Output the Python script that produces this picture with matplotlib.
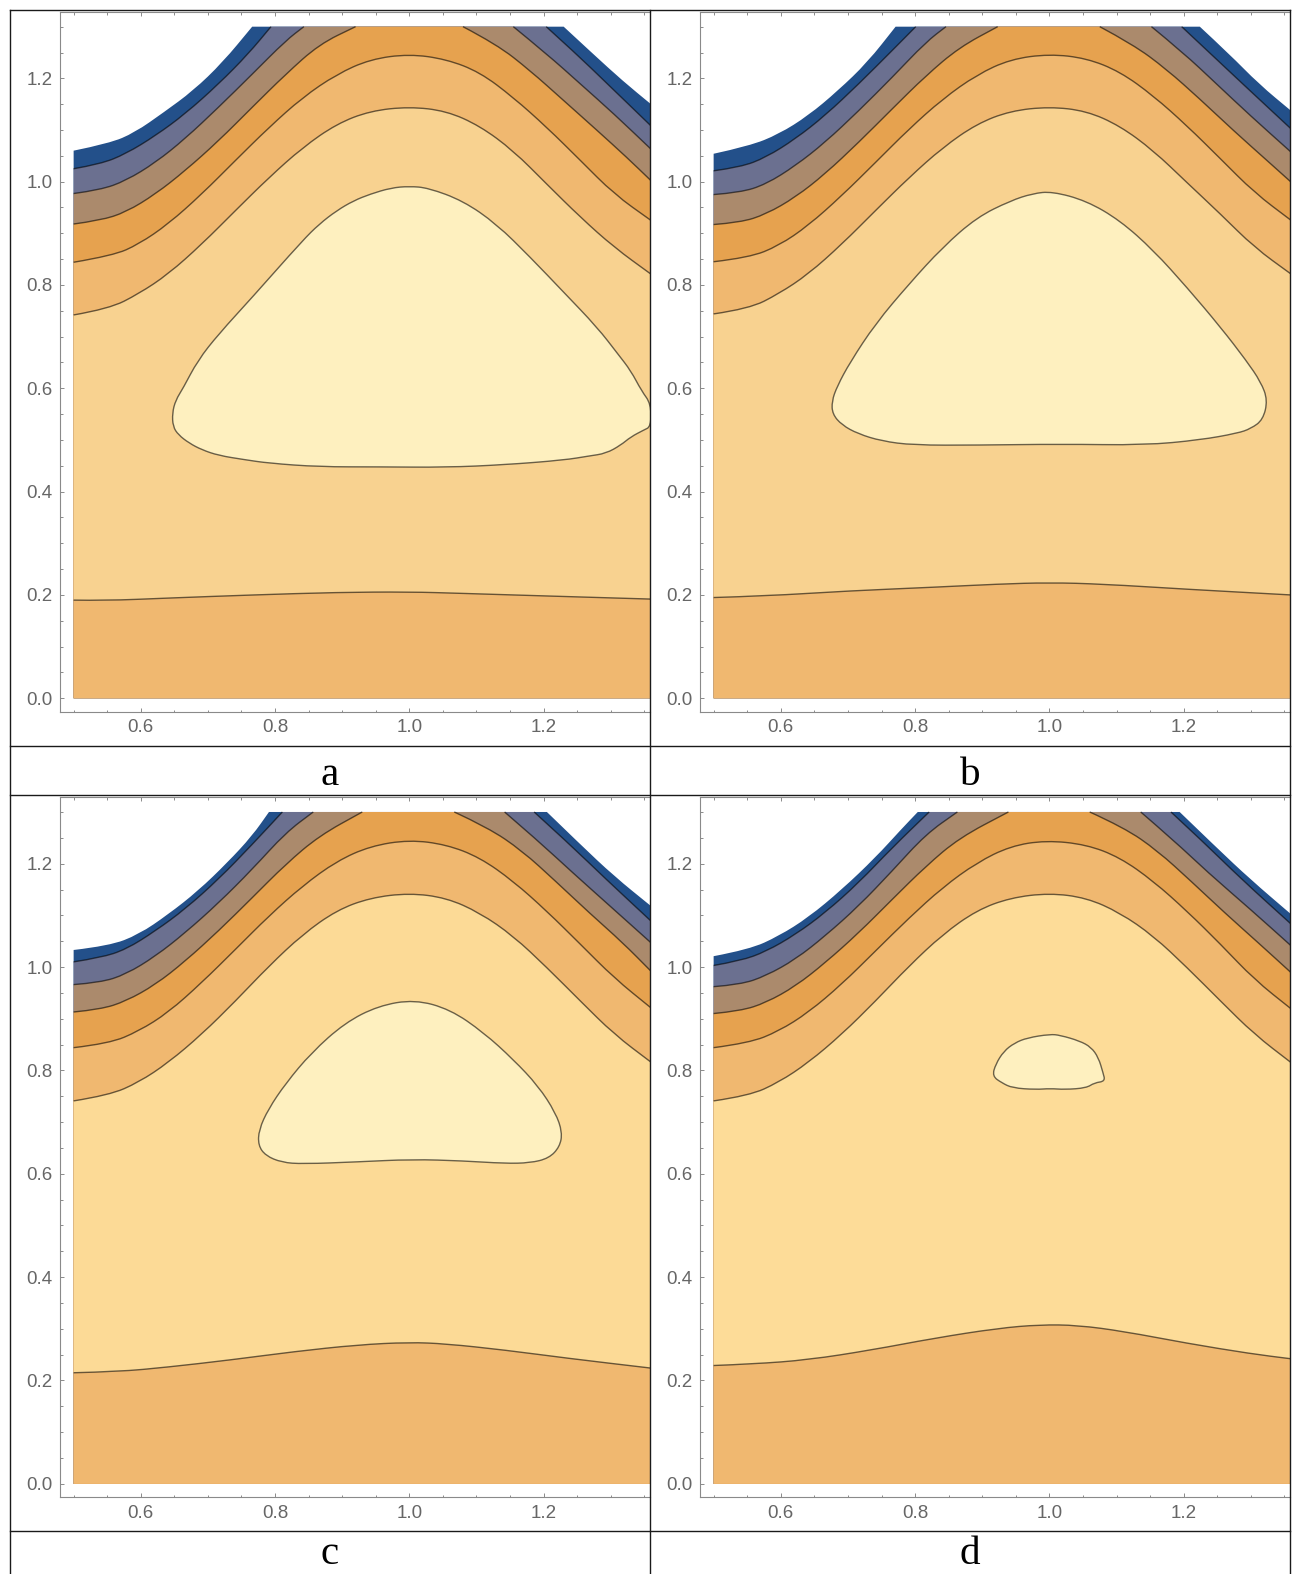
import matplotlib
matplotlib.use("Agg")
import matplotlib.pyplot as plt
from matplotlib.patches import PathPatch
from matplotlib.path import Path
from matplotlib.ticker import MultipleLocator, FormatStrFormatter

# contour curves, (x, y) points; *_l / *_r are the branches cut by the top of the plot
a_edge_l = [(0.5, 1.060), (0.553, 1.074), (0.591, 1.095), (0.634, 1.134), (0.678, 1.176), (0.722, 1.231), (0.766, 1.30)]
a_edge_r = [(1.230, 1.30), (1.274, 1.247), (1.318, 1.195), (1.36, 1.150)]
a_c1_l = [(0.5, 1.025), (0.540, 1.034), (0.578, 1.054), (0.622, 1.089), (0.666, 1.131), (0.716, 1.189), (0.760, 1.247), (0.794, 1.30)]
a_c1_r = [(1.204, 1.30), (1.249, 1.247), (1.293, 1.192), (1.36, 1.108)]
a_c2_l = [(0.5, 0.977), (0.540, 0.984), (0.578, 1.002), (0.622, 1.037), (0.666, 1.083), (0.716, 1.144), (0.766, 1.208), (0.816, 1.273), (0.843, 1.30)]
a_c2_r = [(1.155, 1.30), (1.205, 1.247), (1.255, 1.189), (1.305, 1.131), (1.36, 1.063)]
a_c3_l = [(0.5, 0.918), (0.540, 0.925), (0.578, 0.941), (0.622, 0.976), (0.666, 1.021), (0.716, 1.079), (0.766, 1.144), (0.816, 1.208), (0.866, 1.266), (0.920, 1.30)]
a_c3_r = [(1.080, 1.30), (1.130, 1.266), (1.180, 1.215), (1.230, 1.157), (1.280, 1.099), (1.324, 1.047), (1.36, 1.002)]
a_c4 = [(0.5, 0.844), (0.559, 0.857), (0.597, 0.879), (0.641, 0.918), (0.691, 0.976), (0.741, 1.041), (0.791, 1.105), (0.841, 1.163), (0.892, 1.208),
        (0.942, 1.237), (1.0, 1.247), (1.055, 1.237), (1.105, 1.212), (1.155, 1.163), (1.205, 1.105), (1.255, 1.041), (1.305, 0.976), (1.36, 0.925)]
a_c5 = [(0.5, 0.742), (0.553, 0.754), (0.597, 0.783), (0.641, 0.821), (0.691, 0.879), (0.741, 0.944), (0.791, 1.008), (0.841, 1.066), (0.892, 1.112),
        (0.942, 1.137), (1.0, 1.145), (1.055, 1.137), (1.105, 1.108), (1.155, 1.060), (1.205, 0.995), (1.255, 0.931), (1.305, 0.873), (1.36, 0.821)]
a_low = [(0.5, 0.190), (0.547, 0.189), (0.641, 0.194), (0.766, 0.200), (0.892, 0.205), (1.0, 0.206), (1.080, 0.203), (1.205, 0.198), (1.36, 0.192)]
a_blob = [(1.0, 0.991), (1.028, 0.988), (1.080, 0.963), (1.130, 0.918), (1.180, 0.854), (1.230, 0.786), (1.280, 0.718), (1.311, 0.666),
          (1.330, 0.634), (1.346, 0.595), (1.36, 0.570), (1.36, 0.526), (1.349, 0.519), (1.330, 0.506), (1.315, 0.490), (1.293, 0.474),
          (1.268, 0.469), (1.230, 0.461), (1.142, 0.452), (1.055, 0.447), (0.954, 0.448), (0.866, 0.448), (0.791, 0.455), (0.754, 0.462),
          (0.716, 0.470), (0.691, 0.481), (0.672, 0.494), (0.656, 0.510), (0.648, 0.526), (0.647, 0.552), (0.652, 0.577), (0.663, 0.600),
          (0.685, 0.654), (0.716, 0.705), (0.766, 0.776), (0.841, 0.886), (0.866, 0.918), (0.892, 0.944), (0.917, 0.963), (0.942, 0.976),
          (0.973, 0.988)]

b_edge_l = [(0.5, 1.054), (0.553, 1.069), (0.597, 1.092), (0.641, 1.128), (0.685, 1.176), (0.729, 1.231), (0.771, 1.30)]
b_edge_r = [(1.224, 1.30), (1.268, 1.247), (1.312, 1.189), (1.36, 1.137)]
b_c1_l = [(0.5, 1.021), (0.540, 1.028), (0.578, 1.047), (0.622, 1.083), (0.666, 1.128), (0.716, 1.189), (0.766, 1.254), (0.801, 1.30)]
b_c1_r = [(1.197, 1.30), (1.243, 1.244), (1.293, 1.183), (1.36, 1.102)]
b_c2_l = [(0.5, 0.975), (0.540, 0.979), (0.578, 0.995), (0.622, 1.031), (0.666, 1.076), (0.716, 1.137), (0.766, 1.202), (0.816, 1.270), (0.846, 1.30)]
b_c2_r = [(1.152, 1.30), (1.199, 1.250), (1.249, 1.189), (1.299, 1.128), (1.36, 1.057)]
b_c3_l = [(0.5, 0.917), (0.540, 0.921), (0.578, 0.937), (0.622, 0.970), (0.666, 1.015), (0.716, 1.076), (0.766, 1.141), (0.816, 1.205), (0.866, 1.260), (0.923, 1.30)]
b_c3_r = [(1.075, 1.30), (1.124, 1.266), (1.174, 1.218), (1.224, 1.160), (1.274, 1.099), (1.324, 1.041), (1.36, 0.999)]
b_c4 = [(0.5, 0.845), (0.553, 0.853), (0.597, 0.876), (0.641, 0.915), (0.691, 0.973), (0.741, 1.037), (0.791, 1.102), (0.841, 1.160), (0.892, 1.207),
        (0.942, 1.237), (1.0, 1.247), (1.055, 1.239), (1.105, 1.213), (1.155, 1.166), (1.205, 1.108), (1.255, 1.044), (1.305, 0.979), (1.36, 0.925)]
b_c5 = [(0.5, 0.744), (0.553, 0.754), (0.597, 0.783), (0.641, 0.821), (0.691, 0.879), (0.741, 0.944), (0.791, 1.008), (0.841, 1.066), (0.892, 1.112),
        (0.942, 1.137), (1.0, 1.145), (1.055, 1.137), (1.105, 1.108), (1.155, 1.060), (1.205, 0.998), (1.255, 0.937), (1.305, 0.873), (1.36, 0.821)]
b_low = [(0.5, 0.195), (0.578, 0.198), (0.703, 0.208), (0.829, 0.215), (0.923, 0.221), (1.0, 0.224), (1.080, 0.221), (1.205, 0.211), (1.36, 0.200)]
b_blob = [(1.004, 0.981), (1.055, 0.963), (1.105, 0.925), (1.155, 0.867), (1.205, 0.795), (1.255, 0.718), (1.293, 0.654), (1.315, 0.612),
          (1.325, 0.577), (1.318, 0.539), (1.300, 0.522), (1.280, 0.513), (1.224, 0.500), (1.142, 0.490), (1.017, 0.492), (0.892, 0.490),
          (0.797, 0.490), (0.750, 0.498), (0.715, 0.512), (0.691, 0.529), (0.677, 0.550), (0.676, 0.575), (0.684, 0.604), (0.703, 0.650),
          (0.741, 0.725), (0.791, 0.802), (0.841, 0.873), (0.892, 0.931), (0.942, 0.963), (0.975, 0.977)]

c_edge_l = [(0.5, 1.033), (0.553, 1.041), (0.597, 1.063), (0.641, 1.102), (0.685, 1.147), (0.729, 1.202), (0.766, 1.254), (0.791, 1.30)]
c_edge_r = [(1.205, 1.30), (1.255, 1.237), (1.305, 1.176), (1.36, 1.118)]
c_c1_l = [(0.5, 1.010), (0.540, 1.018), (0.578, 1.034), (0.622, 1.070), (0.666, 1.112), (0.716, 1.170), (0.766, 1.237), (0.811, 1.30)]
c_c1_r = [(1.186, 1.30), (1.236, 1.241), (1.293, 1.170), (1.36, 1.089)]
c_c2_l = [(0.5, 0.966), (0.540, 0.970), (0.578, 0.986), (0.622, 1.021), (0.666, 1.066), (0.716, 1.124), (0.766, 1.189), (0.816, 1.260), (0.857, 1.30)]
c_c2_r = [(1.142, 1.30), (1.192, 1.244), (1.243, 1.183), (1.299, 1.118), (1.36, 1.047)]
c_c3_l = [(0.5, 0.913), (0.540, 0.918), (0.578, 0.934), (0.622, 0.966), (0.666, 1.011), (0.716, 1.070), (0.766, 1.134), (0.816, 1.199), (0.866, 1.254), (0.930, 1.30)]
c_c3_r = [(1.067, 1.30), (1.117, 1.270), (1.168, 1.225), (1.218, 1.166), (1.268, 1.105), (1.318, 1.047), (1.36, 0.992)]
c_c4 = [(0.5, 0.844), (0.553, 0.852), (0.597, 0.876), (0.641, 0.912), (0.691, 0.970), (0.741, 1.034), (0.791, 1.099), (0.841, 1.157), (0.892, 1.205),
        (0.942, 1.234), (1.0, 1.246), (1.055, 1.237), (1.105, 1.212), (1.155, 1.166), (1.205, 1.108), (1.255, 1.044), (1.305, 0.979), (1.36, 0.921)]
c_c5 = [(0.5, 0.741), (0.553, 0.752), (0.597, 0.777), (0.641, 0.815), (0.691, 0.870), (0.741, 0.934), (0.791, 1.002), (0.841, 1.063), (0.892, 1.110),
        (0.942, 1.134), (1.0, 1.143), (1.055, 1.134), (1.105, 1.105), (1.155, 1.060), (1.205, 0.999), (1.255, 0.934), (1.305, 0.870), (1.36, 0.816)]
c_low = [(0.5, 0.215), (0.566, 0.217), (0.641, 0.226), (0.735, 0.240), (0.829, 0.256), (0.923, 0.269), (1.0, 0.274), (1.055, 0.271),
         (1.142, 0.259), (1.236, 0.243), (1.36, 0.224)]
c_blob = [(1.008, 0.937), (1.061, 0.918), (1.111, 0.873), (1.155, 0.821), (1.192, 0.770), (1.218, 0.718), (1.228, 0.680), (1.224, 0.652),
          (1.208, 0.630), (1.180, 0.621), (1.142, 0.620), (1.080, 0.625), (1.004, 0.628), (0.923, 0.623), (0.841, 0.619), (0.810, 0.622),
          (0.786, 0.635), (0.775, 0.655), (0.776, 0.685), (0.790, 0.725), (0.816, 0.775), (0.854, 0.834), (0.904, 0.892), (0.954, 0.925)]

d_edge_l = [(0.5, 1.021), (0.553, 1.034), (0.597, 1.060), (0.641, 1.096), (0.691, 1.150), (0.741, 1.212), (0.779, 1.266), (0.804, 1.30)]
d_edge_r = [(1.194, 1.30), (1.249, 1.231), (1.299, 1.170), (1.36, 1.102)]
d_c1_l = [(0.5, 1.003), (0.540, 1.012), (0.578, 1.030), (0.622, 1.063), (0.666, 1.105), (0.716, 1.163), (0.766, 1.231), (0.821, 1.30)]
d_c1_r = [(1.181, 1.30), (1.230, 1.241), (1.286, 1.170), (1.36, 1.083)]
d_c2_l = [(0.5, 0.962), (0.540, 0.966), (0.578, 0.983), (0.622, 1.015), (0.666, 1.060), (0.716, 1.118), (0.766, 1.186), (0.816, 1.257), (0.863, 1.30)]
d_c2_r = [(1.136, 1.30), (1.186, 1.244), (1.236, 1.183), (1.299, 1.112), (1.36, 1.041)]
d_c3_l = [(0.5, 0.910), (0.540, 0.915), (0.578, 0.931), (0.622, 0.963), (0.666, 1.008), (0.716, 1.066), (0.766, 1.131), (0.816, 1.195), (0.866, 1.250), (0.939, 1.30)]
d_c3_r = [(1.060, 1.30), (1.111, 1.270), (1.161, 1.225), (1.211, 1.166), (1.261, 1.105), (1.311, 1.047), (1.36, 0.989)]
d_c4 = [(0.5, 0.844), (0.553, 0.853), (0.597, 0.876), (0.641, 0.912), (0.691, 0.967), (0.741, 1.031), (0.791, 1.095), (0.841, 1.154), (0.892, 1.202),
        (0.942, 1.234), (0.995, 1.245), (1.055, 1.237), (1.105, 1.212), (1.155, 1.166), (1.205, 1.108), (1.255, 1.044), (1.305, 0.976), (1.36, 0.919)]
d_c5 = [(0.5, 0.741), (0.553, 0.751), (0.597, 0.777), (0.641, 0.815), (0.691, 0.870), (0.741, 0.934), (0.791, 1.002), (0.841, 1.063), (0.892, 1.110),
        (0.942, 1.134), (1.0, 1.143), (1.055, 1.134), (1.105, 1.105), (1.155, 1.060), (1.205, 0.999), (1.255, 0.934), (1.305, 0.870), (1.36, 0.815)]
d_low = [(0.5, 0.229), (0.560, 0.232), (0.641, 0.240), (0.735, 0.259), (0.829, 0.282), (0.923, 0.301), (0.986, 0.308), (1.042, 0.307),
         (1.111, 0.295), (1.205, 0.272), (1.299, 0.252), (1.36, 0.242)]
d_blob = [(1.001, 0.870), (1.016, 0.868), (1.045, 0.857), (1.062, 0.845), (1.073, 0.825), (1.080, 0.795), (1.083, 0.779), (1.067, 0.776),
          (1.055, 0.766), (1.023, 0.763), (1.001, 0.765), (0.980, 0.763), (0.945, 0.766), (0.929, 0.776), (0.915, 0.789), (0.920, 0.812),
          (0.932, 0.837), (0.948, 0.853), (0.967, 0.863)]

panel_names = ["a", "b", "c", "d"]
level_colors = ["#23508a", "#6b7090", "#ab8a6c", "#e6a24f", "#f0b870"]
main_colors = ["#f8d290", "#f8d290", "#fcda96", "#fddc98"]
blob_color = "#fef0bf"

x_lo, x_hi = 0.5, 1.36

W, H = 1301, 1574
fig = plt.figure(figsize=(W / 100, H / 100), dpi=100)

# axes boxes in pixels: left, top, right, bottom
boxes = [(60.2, 11.7, 650.0, 711.7), (700.2, 11.7, 1290.2, 711.7),
         (60.2, 797.0, 650.0, 1497.3), (700.2, 797.0, 1290.2, 1497.3)]
label_pos = [(329.7, 785.0), (970.0, 785.0), (329.7, 1564.0), (970.0, 1564.0)]

panels = [
    (a_edge_l, a_edge_r, a_c1_l, a_c1_r, a_c2_l, a_c2_r, a_c3_l, a_c3_r, a_c4, a_c5, a_low, a_blob),
    (b_edge_l, b_edge_r, b_c1_l, b_c1_r, b_c2_l, b_c2_r, b_c3_l, b_c3_r, b_c4, b_c5, b_low, b_blob),
    (c_edge_l, c_edge_r, c_c1_l, c_c1_r, c_c2_l, c_c2_r, c_c3_l, c_c3_r, c_c4, c_c5, c_low, c_blob),
    (d_edge_l, d_edge_r, d_c1_l, d_c1_r, d_c2_l, d_c2_r, d_c3_l, d_c3_r, d_c4, d_c5, d_low, d_blob),
]


def mid(p, q):
    return ((p[0] + q[0]) / 2, (p[1] + q[1]) / 2)


def chain(pts, verts, codes, first):
    # smooth open run through the points (quadratic pieces between midpoints)
    verts.append(pts[0])
    codes.append(first)
    for k in range(1, len(pts) - 1):
        verts += [pts[k], mid(pts[k], pts[k + 1])]
        codes += [Path.CURVE3, Path.CURVE3]
    verts.append(pts[-1])
    codes.append(Path.LINETO)


def loop_path(pts):
    n = len(pts)
    start = mid(pts[-1], pts[0])
    verts, codes = [start], [Path.MOVETO]
    for k in range(n):
        verts += [pts[k], mid(pts[k], pts[(k + 1) % n])]
        codes += [Path.CURVE3, Path.CURVE3]
    verts.append(start)
    codes.append(Path.CLOSEPOLY)
    return Path(verts, codes)


def region_path(runs, corners):
    verts, codes = [], []
    for j, run in enumerate(runs):
        chain(run, verts, codes, Path.MOVETO if j == 0 else Path.LINETO)
    for p in corners:
        verts.append(p)
        codes.append(Path.LINETO)
    verts.append(verts[0])
    codes.append(Path.CLOSEPOLY)
    return Path(verts, codes)


def fill(ax, path, color):
    ax.add_patch(PathPatch(path, facecolor=color, edgecolor="none", lw=0, zorder=1))


def contour_line(ax, path):
    ax.add_patch(PathPatch(path, facecolor="none", edgecolor=(0, 0, 0, 0.58), lw=1.0, zorder=3,
                           joinstyle="round", capstyle="butt"))


def open_path(pts):
    verts, codes = [], []
    chain(pts, verts, codes, Path.MOVETO)
    return Path(verts, codes)


for i, curves in enumerate(panels):
    edge_l, edge_r, c1_l, c1_r, c2_l, c2_r, c3_l, c3_r, c4, c5, low, blob = curves
    l, t, r, b = boxes[i]
    ax = fig.add_axes([l / W, 1 - b / H, (r - l) / W, (b - t) / H])

    # nested super-level regions, darkest first
    base = [(x_hi, 0.0), (x_lo, 0.0)]
    fill(ax, region_path([edge_l, edge_r], base), level_colors[0])
    fill(ax, region_path([c1_l, c1_r], base), level_colors[1])
    fill(ax, region_path([c2_l, c2_r], base), level_colors[2])
    fill(ax, region_path([c3_l, c3_r], base), level_colors[3])
    fill(ax, region_path([c4], base), level_colors[4])
    fill(ax, region_path([c5, low[::-1]], []), main_colors[i])
    fill(ax, loop_path(blob), blob_color)

    for pts in (c1_l, c1_r, c2_l, c2_r, c3_l, c3_r, c4, c5, low):
        contour_line(ax, open_path(pts))
    contour_line(ax, loop_path(blob))

    ax.set_xlim(0.48, 1.3586)
    ax.set_ylim(-0.026, 1.329)

    ax.xaxis.set_major_locator(MultipleLocator(0.2))
    ax.xaxis.set_minor_locator(MultipleLocator(0.05))
    ax.yaxis.set_major_locator(MultipleLocator(0.2))
    ax.yaxis.set_minor_locator(MultipleLocator(0.05))
    ax.xaxis.set_major_formatter(FormatStrFormatter("%.1f"))
    ax.yaxis.set_major_formatter(FormatStrFormatter("%.1f"))
    ax.tick_params(which="both", direction="in", top=True, right=False, color="#8a8a8a", width=0.7,
                   labelsize=13.5, labelcolor="#666666", pad=5.5)
    ax.tick_params(which="major", length=3.0)
    ax.tick_params(which="minor", length=1.8)
    for lab in ax.get_xticklabels() + ax.get_yticklabels():
        lab.set_family("Liberation Sans")
    for side in ("left", "bottom", "top"):
        ax.spines[side].set_color("#8a8a8a")
        ax.spines[side].set_linewidth(0.8)
    ax.spines["right"].set_visible(False)

    lx, ly = label_pos[i]
    fig.text(lx / W, 1 - ly / H, panel_names[i], ha="center", va="baseline",
             family="Liberation Serif", fontsize=29.5, color="black")

# table grid drawn over everything
grid = fig.add_axes([0, 0, 1, 1], zorder=10)
grid.set_xlim(0, W)
grid.set_ylim(H, 0)
grid.axis("off")
grid.patch.set_alpha(0)
for y in (9.5, 746.0, 795.0, 1531.0):
    grid.plot([9.5, 1290.3], [y, y], color="#1a1a1a", lw=1.0, solid_capstyle="projecting")
for x in (9.5, 650.0, 1290.3):
    grid.plot([x, x], [9.5, H], color="#1a1a1a", lw=1.0, solid_capstyle="projecting")

fig.savefig("out.png", dpi=100)
